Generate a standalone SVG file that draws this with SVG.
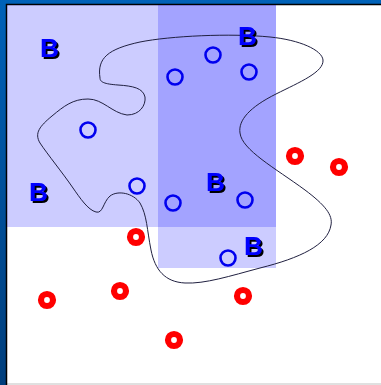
<svg xmlns="http://www.w3.org/2000/svg" width="381" height="385" viewBox="0 0 381 385">
  <defs>
    <linearGradient id="bg" x1="0" y1="0" x2="0" y2="1">
      <stop offset="0" stop-color="#0062b8"/>
      <stop offset="1" stop-color="#003e7c"/>
    </linearGradient>
    <filter id="shade" x="-20%" y="-20%" width="150%" height="150%">
      <feOffset in="SourceAlpha" dx="2" dy="2" result="off"/>
      <feMerge>
        <feMergeNode in="off"/>
        <feMergeNode in="SourceGraphic"/>
      </feMerge>
    </filter>
    <style>
      .region { fill: #0000ff; fill-opacity: 0.2; }
      .pos { fill: none; stroke: #0000ee; stroke-width: 2.6; }
      .neg { fill: #ffffff; stroke: #ff0000; stroke-width: 6.2; }
      .lbl { font-family: "Liberation Sans", Arial, sans-serif; font-weight: bold; font-size: 26px; fill: #0000ff; filter: url(#shade); }
      .curve { fill: none; stroke: #202040; stroke-width: 1; }
    </style>
  </defs>
  <rect x="0" y="0" width="381" height="385" fill="url(#bg)"/>
  <rect x="7" y="5" width="374" height="378" fill="#ffffff"/>
  <rect x="7" y="383" width="374" height="2" fill="#e0e0e0"/>
  <path d="M6.5 385 V4.5 H381" fill="none" stroke="#000000" stroke-width="1.5"/>

  <g id="regions">
    <rect id="rectA" class="region" x="7" y="5" width="269" height="222"/>
    <rect id="rectB" class="region" x="158" y="5" width="118" height="263"/>
  </g>

  <g id="connectors">
    <path class="curve" d="M100 78 C97 58 108 49 140 42 C170 36 230 33 270 37 C300 40 322 50 323 60 C324 72 300 82 276 94 C250 107 238 120 240 133 C242 150 275 168 305 190 C325 205 333 215 331 225 C328 245 300 258 260 268 C230 276 205 284 185 283 C165 282 155 270 151 250 C147 230 147 215 140 203 C133 193 118 190 110 196 C103 202 103 214 96 212 C88 210 80 198 73 188 C62 172 48 155 40 143 C34 133 40 126 52 116 C64 106 73 99 88 99 C103 99 112 113 127 115 C140 115 146 105 145 97 C143 88 133 86 118 85 C104 84 100 82 100 78 Z"/>
  </g>

  <g id="positives">
    <circle id="p1" class="pos" cx="88" cy="130" r="7.5"/>
    <circle id="p2" class="pos" cx="175" cy="77" r="7.5"/>
    <circle id="p3" class="pos" cx="213" cy="55" r="7.5"/>
    <circle id="p4" class="pos" cx="249" cy="72" r="7.5"/>
    <circle id="p5" class="pos" cx="137" cy="186" r="7.5"/>
    <circle id="p6" class="pos" cx="173" cy="203" r="7.5"/>
    <circle id="p7" class="pos" cx="245" cy="200" r="7.5"/>
    <circle id="p8" class="pos" cx="228" cy="258" r="7.5"/>
  </g>

  <g id="negatives">
    <circle id="n1" class="neg" cx="295" cy="156" r="6"/>
    <circle id="n2" class="neg" cx="339" cy="167" r="6"/>
    <circle id="n3" class="neg" cx="136" cy="237" r="6"/>
    <circle id="n4" class="neg" cx="120" cy="291" r="6"/>
    <circle id="n5" class="neg" cx="47" cy="300" r="6"/>
    <circle id="n6" class="neg" cx="243" cy="296" r="6"/>
    <circle id="n7" class="neg" cx="174" cy="340" r="6"/>
  </g>

  <g id="labels">
    <text id="b1" class="lbl" x="40" y="57">B</text>
    <text id="b2" class="lbl" x="238" y="45">B</text>
    <text id="b3" class="lbl" x="29" y="201">B</text>
    <text id="b4" class="lbl" x="206" y="191">B</text>
    <text id="b5" class="lbl" x="244" y="255">B</text>
  </g>
</svg>
